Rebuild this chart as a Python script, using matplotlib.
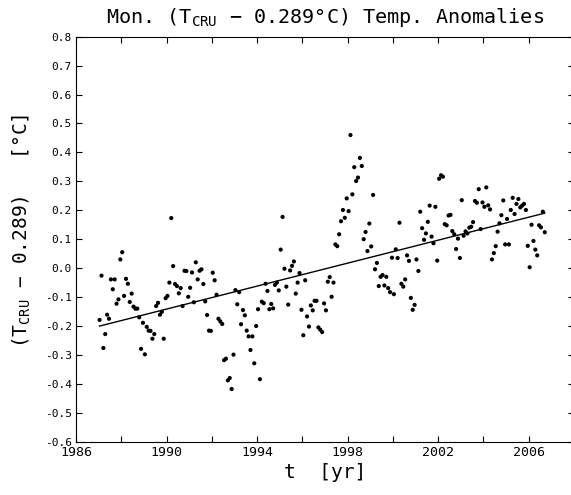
import numpy as np
import matplotlib
matplotlib.use("Agg")
import matplotlib.pyplot as plt
from matplotlib.ticker import MultipleLocator, FixedLocator, FormatStrFormatter

# monthly anomalies (T_CRU - 0.289), Jan..Dec
start_year = 1987
anom_1987 = [-0.179, -0.026, -0.276, -0.228, -0.161, -0.175, -0.039, -0.073, -0.039, -0.123, -0.108, 0.030]
anom_1988 = [0.055, -0.096, -0.037, -0.054, -0.117, -0.088, -0.133, -0.140, -0.140, -0.170, -0.279, -0.189]
anom_1989 = [-0.298, -0.203, -0.216, -0.217, -0.244, -0.228, -0.131, -0.120, -0.161, -0.151, -0.244, -0.104]
anom_1990 = [-0.096, -0.050, 0.173, 0.007, -0.055, -0.062, -0.087, -0.069, -0.131, -0.009, -0.010, -0.099]
anom_1991 = [-0.068, -0.015, -0.118, 0.020, -0.039, -0.009, -0.004, -0.055, -0.115, -0.162, -0.216, -0.217]
anom_1992 = [-0.016, -0.042, -0.092, -0.175, -0.184, -0.193, -0.318, -0.313, -0.388, -0.380, -0.418, -0.299]
anom_1993 = [-0.076, -0.125, -0.083, -0.194, -0.145, -0.163, -0.216, -0.236, -0.283, -0.236, -0.329, -0.200]
anom_1994 = [-0.142, -0.384, -0.116, -0.121, -0.054, -0.079, -0.142, -0.124, -0.139, -0.058, -0.050, -0.077]
anom_1995 = [0.064, 0.177, -0.002, -0.064, -0.126, -0.008, 0.008, 0.023, -0.088, -0.050, -0.017, -0.144]
anom_1996 = [-0.232, -0.042, -0.167, -0.202, -0.129, -0.146, -0.113, -0.113, -0.205, -0.213, -0.221, -0.122]
anom_1997 = [-0.146, -0.047, -0.031, -0.099, -0.050, 0.082, 0.076, 0.117, 0.162, 0.201, 0.174, 0.241]
anom_1998 = [0.197, 0.460, 0.255, 0.349, 0.301, 0.313, 0.381, 0.353, 0.100, 0.125, 0.059, 0.154]
anom_1999 = [0.075, 0.253, -0.004, 0.018, -0.062, -0.030, -0.024, -0.060, -0.030, -0.069, -0.083, 0.036]
anom_2000 = [-0.090, 0.065, 0.035, 0.157, -0.054, -0.064, -0.039, 0.044, 0.025, -0.103, -0.144, -0.127]
anom_2001 = [0.030, -0.010, 0.195, 0.138, 0.098, 0.120, 0.160, 0.216, 0.109, 0.086, 0.212, 0.026]
anom_2002 = [0.309, 0.321, 0.316, 0.152, 0.148, 0.182, 0.184, 0.128, 0.117, 0.066, 0.102, 0.035]
anom_2003 = [0.235, 0.112, 0.127, 0.120, 0.140, 0.143, 0.159, 0.232, 0.226, 0.273, 0.135, 0.227]
anom_2004 = [0.212, 0.279, 0.217, 0.203, 0.030, 0.052, 0.076, 0.126, 0.155, 0.183, 0.234, 0.082]
anom_2005 = [0.170, 0.082, 0.201, 0.243, 0.187, 0.222, 0.239, 0.210, 0.216, 0.222, 0.201, 0.077]
anom_2006 = [0.003, 0.150, 0.094, 0.064, 0.044, 0.148, 0.141, 0.195, 0.124]

x_ticklabels = ["1986", "1990", "1994", "1998", "2002", "2006"]

anom = np.array(anom_1987 + anom_1988 + anom_1989 + anom_1990 + anom_1991 + anom_1992
                + anom_1993 + anom_1994 + anom_1995 + anom_1996 + anom_1997 + anom_1998
                + anom_1999 + anom_2000 + anom_2001 + anom_2002 + anom_2003 + anom_2004
                + anom_2005 + anom_2006)
t = start_year + (np.arange(len(anom)) + 0.5) / 12.0

# linear trend
k, b = np.polyfit(t, anom, 1)

plt.rcParams['font.family'] = ['DejaVu Sans Mono']
plt.rcParams['mathtext.fontset'] = 'custom'
plt.rcParams['mathtext.rm'] = 'DejaVu Sans Mono'
plt.rcParams['mathtext.it'] = 'DejaVu Sans Mono'

fig = plt.figure(figsize=(5.71, 4.95), dpi=100)
ax = fig.add_axes([76/571, 53.3/495, 498/571, 405/495])

ax.scatter(t, anom, s=9, color='black', edgecolors='none', zorder=3)
ax.plot([t[0], t[-1]], [k*t[0] + b, k*t[-1] + b], color='black', lw=1.0)

ax.set_xlim(1986, 2008)
ax.set_ylim(-0.6, 0.8)
ax.xaxis.set_major_locator(FixedLocator([int(s) for s in x_ticklabels]))
ax.xaxis.set_minor_locator(MultipleLocator(2))
ax.yaxis.set_major_locator(MultipleLocator(0.1))
ax.yaxis.set_major_formatter(FormatStrFormatter('%.1f'))
ax.tick_params(which='both', direction='in', top=True, right=True, length=4, width=0.8)
ax.tick_params(axis='x', labelsize=9.5, pad=3)
ax.tick_params(axis='y', labelsize=8, pad=3)
for s in ax.spines.values():
    s.set_linewidth(0.8)

ax.set_title("Mon. (T$_{\\mathrm{CRU}}$ \u2212 0.289\u00b0C) Temp. Anomalies", fontsize=14.5, pad=10)
ax.set_xlabel("t  [yr]", fontsize=14, labelpad=3)
ax.set_ylabel("(T$_{\\mathrm{CRU}}$ \u2212 0.289)   [\u00b0C]", fontsize=14)
ax.yaxis.set_label_coords(-0.086, 0.52)

fig.savefig("out.png", dpi=100)
